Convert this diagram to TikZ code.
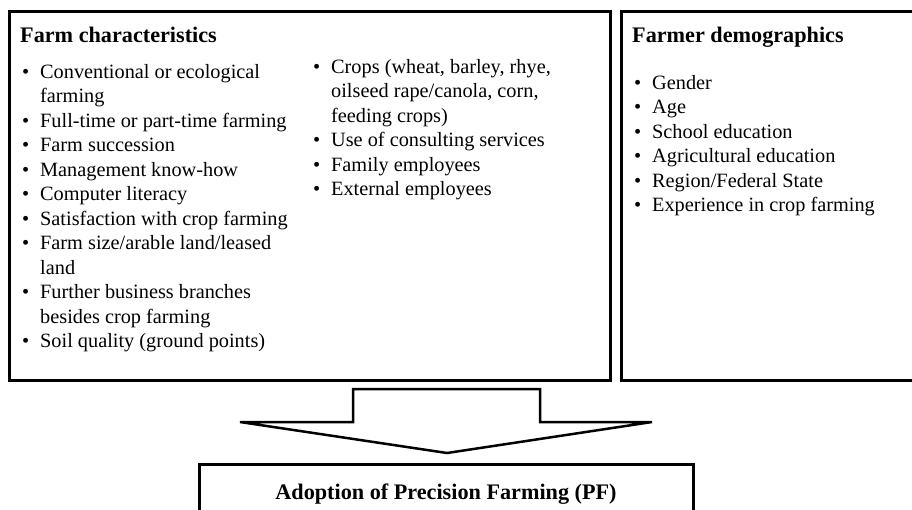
\documentclass[tikz,border=0pt]{standalone}
\usepackage{fontspec}
\setmainfont{Liberation Serif}
\usepackage{tikz}

\newcommand{\itm}{\makebox[18pt][l]{\textbullet}}

\tikzset{
  panel/.style={draw, line width=2.8pt, anchor=north west, inner sep=0pt},
  heading/.style={anchor=base west, inner sep=0pt, font=\fontsize{22.2}{26}\selectfont\bfseries},
  itemlist/.style={anchor=base west, inner sep=0pt, font=\fontsize{20.3}{24.5}\selectfont},
}

\begin{document}
\begin{tikzpicture}[x=1pt,y=-1pt]
\useasboundingbox (0,0) rectangle (912,509);

% the two boxes on top
\node[panel, minimum width=601pt, minimum height=369pt] (farmbox) at (8,10) {};
\node[panel, minimum width=320pt, minimum height=369pt] (demobox) at (620,10) {};

\node[heading] (farmhead) at (20,42) {Farm characteristics};
\node[itemlist] (farmlistA) at (22,78) {\begin{tabular}[t]{@{}l@{}l@{}}
\itm & Conventional or ecological\\
     & farming\\
\itm & Full-time or part-time farming\\
\itm & Farm succession\\
\itm & Management know-how\\
\itm & Computer literacy\\
\itm & Satisfaction with crop farming\\
\itm & Farm size/arable land/leased\\
     & land\\
\itm & Further business branches\\
     & besides crop farming\\
\itm & Soil quality (ground points)
\end{tabular}};
\node[itemlist] (farmlistB) at (313,73) {\begin{tabular}[t]{@{}l@{}l@{}}
\itm & Crops (wheat, barley, rhye,\\
     & oilseed rape/canola, corn,\\
     & feeding crops)\\
\itm & Use of consulting services\\
\itm & Family employees\\
\itm & External employees
\end{tabular}};

\node[heading] (demohead) at (632,42) {Farmer demographics};
\node[itemlist] (demolist) at (634,89) {\begin{tabular}[t]{@{}l@{}l@{}}
\itm & Gender\\
\itm & Age\\
\itm & School education\\
\itm & Agricultural education\\
\itm & Region/Federal State\\
\itm & Experience in crop farming
\end{tabular}};

% block arrow
\draw[line width=2.5pt] (353,389) -- (540,389) -- (540,422) -- (652,422) -- (447,453)
  -- (240,422) -- (353,422) -- cycle;

% result
\node[panel, minimum width=494pt, minimum height=80pt] (adoptbox) at (198,463) {};
\node[heading, anchor=base] (adopt) at (446,499) {Adoption of Precision Farming (PF)};
\end{tikzpicture}
\end{document}
